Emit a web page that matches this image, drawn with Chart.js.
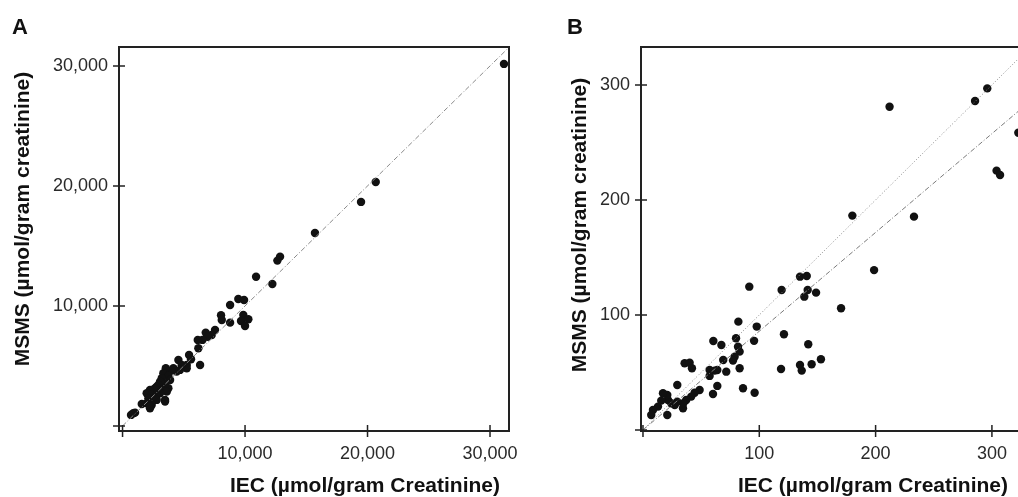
<!DOCTYPE html>
<html><head><meta charset="utf-8">
<script src="https://cdn.jsdelivr.net/npm/chart.js@4/dist/chart.umd.min.js"></script>
<style>
html,body{margin:0;padding:0;background:#fff;width:1018px;height:497px;overflow:hidden;}
#wa{position:absolute;left:0;top:0;width:540px;height:497px;}
#wb{position:absolute;left:515px;top:0;width:530px;height:497px;}
</style></head><body>
<div id="wa"><canvas id="ca"></canvas></div>
<div id="wb"><canvas id="cb"></canvas></div>
<script>
// Panel A data (IEC vs MSMS, µmol/gram creatinine)
const aIEC = [31140,20670,19470,15710,12860,12640,12230,10900,
  9450,9920,8780,9860,9670,10270,10000,8780,8040,8100,7550,7280,6790,6950,6520,6140,6190,6330,5430,5590,5240,5240,4560,4830,4690,4420,4150,4010,3530,3330,3740,3200,3880,3470,3060,2920,2790,3740,3200,2650,2240,3610,3060,1970,2510,2380,2790,3470,2790,3470,2110,1970,2380,1570,2240,2250,1020,690,880];
const aMSMS = [30170,20330,18670,16080,14110,13780,11830,12440,
  10580,10500,10080,9250,8750,8890,8330,8610,9220,8830,8000,7580,7780,7440,7170,7170,6470,5080,5920,5560,5080,4810,5500,5080,4670,4530,4810,4610,4810,4390,4170,3970,3830,3560,3690,3420,3280,3140,3000,3140,3000,2860,2720,2720,2440,2580,2580,2170,2170,2030,2310,1890,1750,1830,1470,1610,1110,920,1060];
const aLineX = [0, 31500];
const aLineY = [0, 31500];
const aTicks = [0, 10000, 20000, 30000];

// Panel B data
const bIEC = [296,285.5,212,304,307,322.7,180,233,198.7,170.3,91.4,119.2,135,140.8,141.6,148.8,138.7,82,97.8,121.2,60.5,67.4,80,81.7,83.1,78.8,77.4,95.5,69,142.1,35.8,40.1,42.1,57.3,61.6,57.3,63.9,71.6,83.1,118.7,135,136.5,145,153,63.9,60.2,86,96,29.5,48.7,44.4,41.5,37.2,34.4,34.7,29.5,24.3,21.5,20.9,17.2,15.7,12.9,8.6,7.1,20.9,27.3];
const bMSMS = [297,286,281,225.5,221.7,258.5,186.4,185.5,139,105.8,124.6,121.7,133.3,133.9,121.7,119.4,115.9,94.2,89.9,83.2,77.4,73.9,79.7,72.4,68.1,63.7,60.3,77.5,60.9,74.5,58,58.5,53.7,52.2,51.6,47,52.2,50.7,53.7,53,56.5,51.6,57.1,61.5,38.3,31.3,36.3,32.4,39.1,34.8,32.4,29,26.1,18.9,23.2,24.6,23.2,26.1,30.4,31.9,25.5,20.3,17.4,13,13,21.7];
const bIdX = [0, 340];
const bIdY = [0, 340];
const bRegX = [0, 340];
const bRegY = [0, 292];
const bTicks = [0, 100, 200, 300];

const FONT = "'Liberation Sans', Arial, Helvetica, sans-serif";
const pts = (xs, ys) => xs.map((x, i) => ({x, y: ys[i]}));

function deco(opts) {
  return {
    id: 'deco',
    afterDraw(chart) {
      const ctx = chart.ctx, a = chart.chartArea;
      const xs = chart.scales.x, ys = chart.scales.y;
      ctx.save();
      ctx.strokeStyle = '#222';
      ctx.lineWidth = 2;
      ctx.strokeRect(a.left, a.top, a.right - a.left, a.bottom - a.top);
      ctx.lineWidth = 1.5;
      ctx.beginPath();
      opts.ticks.forEach(v => {
        const px = xs.getPixelForValue(v);
        ctx.moveTo(px, a.bottom - 6); ctx.lineTo(px, a.bottom + 6);
        const py = ys.getPixelForValue(v);
        ctx.moveTo(a.left - 6, py); ctx.lineTo(a.left + 6, py);
      });
      ctx.stroke();
      ctx.fillStyle = '#111';
      ctx.font = 'bold 22px ' + FONT;
      ctx.textAlign = 'left'; ctx.textBaseline = 'alphabetic';
      ctx.fillText(opts.letter, opts.letterX, 34);
      ctx.font = 'bold 21px ' + FONT;
      ctx.textAlign = 'center'; ctx.textBaseline = 'middle';
      ctx.fillText('IEC (µmol/gram Creatinine)', opts.xtX, 486);
      ctx.translate(opts.ytX, opts.ytY);
      ctx.rotate(-Math.PI / 2);
      ctx.fillText('MSMS (µmol/gram creatinine)', 0, 0);
      ctx.restore();
    }
  };
}

function makeChart(id, cfg) {
  return new Chart(document.getElementById(id), {
    type: 'scatter',
    data: {
      datasets: [
        ...cfg.lines,
        {data: cfg.points, pointRadius: 4.2, pointBackgroundColor: '#111', pointBorderWidth: 0, showLine: false}
      ]
    },
    options: {
      responsive: true, maintainAspectRatio: false, animation: false,
      layout: {padding: {left: 0, right: cfg.padRight, top: 47, bottom: 0}},
      plugins: {legend: {display: false}, tooltip: {enabled: false}},
      scales: {
        x: {
          type: 'linear', min: cfg.xmin, max: cfg.xmax,
          border: {display: false},
          grid: {display: false, drawTicks: false},
          afterBuildTicks: s => { s.ticks = cfg.ticks.map(v => ({value: v})); },
          afterFit: s => { s.height = 66; s.paddingLeft = 0; s.paddingRight = 0; s.paddingTop = 0; s.paddingBottom = 0; },
          ticks: {padding: 12, color: '#2a2a2a', font: {family: FONT, size: 18},
            callback: v => v === 0 ? '' : v.toLocaleString('en-US')}
        },
        y: {
          type: 'linear', min: cfg.ymin, max: cfg.ymax,
          border: {display: false},
          grid: {display: false, drawTicks: false},
          afterBuildTicks: s => { s.ticks = cfg.ticks.map(v => ({value: v})); },
          afterFit: s => { s.width = cfg.yWidth; s.paddingLeft = 0; s.paddingRight = 0; s.paddingTop = 0; s.paddingBottom = 0; },
          ticks: {padding: 11, color: '#2a2a2a', font: {family: FONT, size: 18},
            callback: v => v === 0 ? '' : v.toLocaleString('en-US')}
        }
      }
    },
    plugins: [deco(cfg.deco)]
  });
}

makeChart('ca', {
  points: pts(aIEC, aMSMS),
  lines: [{type: 'line', data: pts(aLineX, aLineY), borderColor: '#8a8a8a', borderWidth: 1, borderDash: [5, 2, 1, 2], pointRadius: 0, fill: false}],
  xmin: -290, xmax: 31550, ymin: -420, ymax: 31580,
  ticks: aTicks, padRight: 31, yWidth: 119,
  deco: {ticks: aTicks, letter: 'A', letterX: 12, xtX: 365, ytX: 23, ytY: 219}
});

makeChart('cb', {
  points: pts(bIEC, bMSMS),
  lines: [
    {type: 'line', data: pts(bIdX, bIdY), borderColor: '#8a8a8a', borderWidth: 1, borderDash: [1, 2], pointRadius: 0, fill: false},
    {type: 'line', data: pts(bRegX, bRegY), borderColor: '#7a7a7a', borderWidth: 1, borderDash: [5, 2, 1, 2], pointRadius: 0, fill: false}
  ],
  xmin: -1.7, xmax: 333.6, ymin: -0.9, ymax: 333,
  ticks: bTicks, padRight: 14, yWidth: 126,
  deco: {ticks: bTicks, letter: 'B', letterX: 52, xtX: 873 - 515, ytX: 580 - 515, ytY: 225}
});
</script>
</body></html>
